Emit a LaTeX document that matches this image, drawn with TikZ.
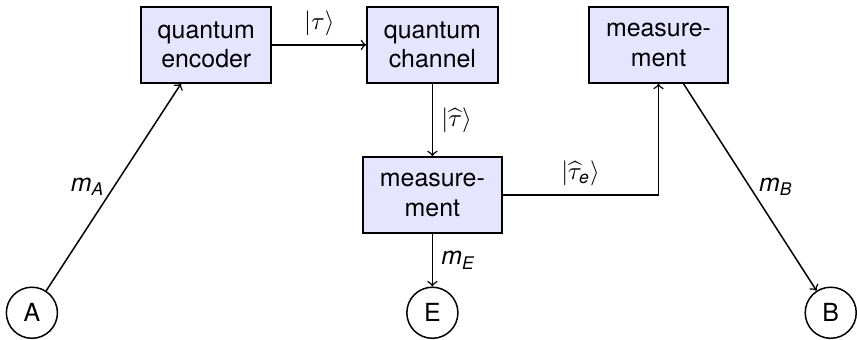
\documentclass[tikz,border=0pt]{standalone}
\usepackage{amsmath}
\usepackage{fontspec}
\setmainfont{TeX Gyre Heros}
\usetikzlibrary{positioning}
\newcommand{\slant}[1]{\textit{#1}}

\begin{document}
\begin{tikzpicture}[node distance=3.19cm, auto]
        \tikzstyle{box} = [rectangle, draw, thick, fill=blue!10, align=center, inner xsep=6.7pt, minimum height=30.4pt]
        \tikzstyle{party} = [circle, draw, semithick, minimum size=20.5pt, inner sep=0pt]
        \tikzstyle{arrow} = [semithick,->]

        \node (enc) [box] {quantum\\encoder};
        \node (chan) [box, right of=enc] {quantum\\channel};
        \node (meas) [box, right of=chan] {measure-\\ment};
        \node (eve) [box, below of=chan, yshift=1.07cm] {measure-\\ment};
        \node (A) [party, below of=enc, xshift=-2.46cm, yshift=-0.59cm] {A};
        \node (E) [party, below of=eve, yshift=1.53cm] {E};
        \node (B) [party, below of=meas, xshift=2.43cm, yshift=-0.59cm] {B};

        \useasboundingbox ([shift={(-82.8pt,18pt)}]enc.center) rectangle ([shift={(260pt,-116pt)}]enc.center);

        \draw [arrow] (A) -- node[left] {$\slant{m}_{\slant{A}}$} (enc);
        \draw [arrow] (enc) -- node {$|\tau\rangle$} (chan);
        \draw [arrow] (chan) -- node {$|\widehat{\tau}\rangle$} (eve);
        \draw [arrow] (eve) -- node {$\slant{m}_{\slant{E}}$} (E);
        \draw [arrow] (eve) -| node[pos=0.25] {$|\widehat{\tau}_{\slant{e}}\rangle$} (meas);
        \draw [arrow] (meas) -- node[right] {$\slant{m}_{\slant{B}}$} (B);
    \end{tikzpicture}
\end{document}
